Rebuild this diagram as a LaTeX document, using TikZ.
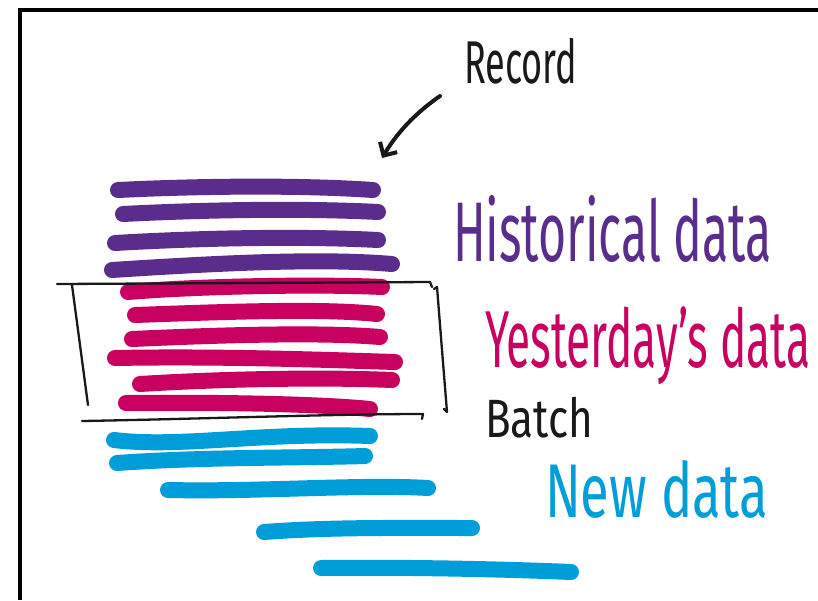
\documentclass[tikz,border=0pt]{standalone}
\usepackage{fontspec}
\setmainfont{Fira Sans}
\usepackage{graphicx}
\usetikzlibrary{arrows.meta}
\definecolor{hpurple}{RGB}{90,45,140}
\definecolor{hmagenta}{RGB}{200,0,95}
\definecolor{hblue}{RGB}{0,158,216}
\definecolor{hblack}{RGB}{25,25,25}
\tikzset{
  pstroke/.style={line width=16pt, line cap=round, draw=hpurple},
  mstroke/.style={line width=16pt, line cap=round, draw=hmagenta},
  bstroke/.style={line width=16pt, line cap=round, draw=hblue},
  pen/.style={line width=2.3pt, line cap=round, line join=round, draw=hblack},
  frameline/.style={line width=3.5pt, draw=black},
  lbl/.style={anchor=north west, inner sep=0pt, outer sep=0pt}
}
\begin{document}
\begin{tikzpicture}[x=1pt,y=-1pt]
\useasboundingbox (0,0) rectangle (818,600);
\fill[white] (0,0) rectangle (818,600);
% frame
\draw[frameline] (20,600) -- (20,10) -- (818,10);

% purple strokes
\draw[pstroke] (118,190) .. controls (200,186) and (300,185) .. (373,190);
\draw[pstroke] (123,214) .. controls (200,210) and (300,208) .. (378,212);
\draw[pstroke] (115,243) .. controls (200,238) and (300,236) .. (378,240);
\draw[pstroke] (112,270) .. controls (220,263) and (320,258) .. (392,264);

% magenta strokes
\draw[mstroke] (128,292) .. controls (200,286) and (320,284) .. (382,287);
\draw[mstroke] (135,315) .. controls (220,312) and (320,308) .. (377,314);
\draw[mstroke] (132,339) .. controls (220,335) and (320,332) .. (380,337);
\draw[mstroke] (115,358) .. controls (220,356) and (330,360) .. (395,362);
\draw[mstroke] (140,384) .. controls (220,379) and (320,377) .. (392,380);
\draw[mstroke] (126,403) .. controls (220,402) and (320,404) .. (370,409);

% batch bracket
\draw[pen] (57,284) -- (250,283) -- (430,282) -- (432,287);
\draw[pen] (72,285) -- (80,345) -- (88,405);
\draw[pen] (434,289) -- (437,287) -- (442,350) -- (447,412) -- (444,409);
\draw[pen] (82,421) .. controls (200,419) and (330,414) .. (423,414) -- (422,419);

% blue strokes
\draw[bstroke] (114,440) .. controls (180,448) and (260,432) .. (370,436);
\draw[bstroke] (117,463) .. controls (200,457) and (300,458) .. (365,456);
\draw[bstroke] (168,490) .. controls (260,492) and (360,484) .. (428,488);
\draw[bstroke] (264,532) .. controls (330,527) and (400,528) .. (472,528);
\draw[bstroke] (321,568) .. controls (400,567) and (500,569) .. (571,572);

% labels
\node[lbl, text=hblack] (record) at (464,38) {\resizebox*{113pt}{46pt}{Record}};
\node[lbl, text=hpurple] (hist) at (453,195) {\resizebox*{319pt}{67pt}{Historical data}};
\node[lbl, text=hmagenta] (yest) at (485,307) {\resizebox*{325pt}{78pt}{Yesterday's data}};
\node[lbl, text=hblack] (batch) at (485,397) {\resizebox*{108pt}{41pt}{Batch}};
\node[lbl, text=hblue] (new) at (545,460) {\resizebox*{223pt}{58pt}{New data}};

% arrow from Record
\coordinate (arrstart) at (440,96);
\coordinate (arrend) at (382,158);
\draw[pen, line width=4pt, -{Straight Barb[length=10pt,width=20pt,line width=4pt]}] (arrstart) .. controls (420,110) and (400,128) .. (arrend);
\end{tikzpicture}
\end{document}
